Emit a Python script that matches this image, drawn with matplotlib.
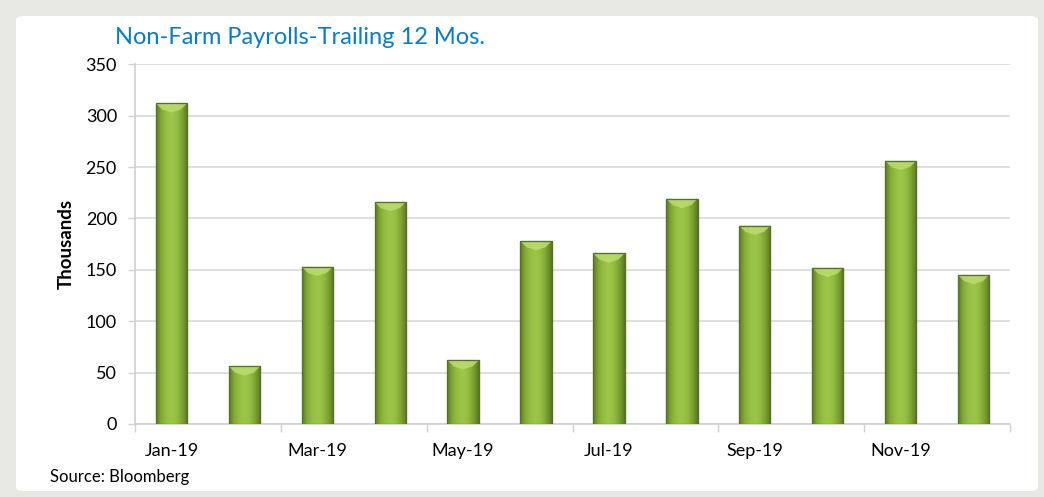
import numpy as np
import matplotlib
matplotlib.use("Agg")
import matplotlib.pyplot as plt
from matplotlib.patches import FancyBboxPatch
from matplotlib.colors import LinearSegmentedColormap

plt.rcParams['font.family'] = ['Lato', 'DejaVu Sans']

months = ["Jan-19", "Feb-19", "Mar-19", "Apr-19", "May-19", "Jun-19",
          "Jul-19", "Aug-19", "Sep-19", "Oct-19", "Nov-19", "Dec-19"]
payrolls = [312, 56, 153, 216, 62, 178, 166, 219, 193, 152, 256, 145]
y_ticks = [0, 50, 100, 150, 200, 250, 300, 350]
title = "Non-Farm Payrolls-Trailing 12 Mos."
ylabel = "Thousands"
source = "Source: Bloomberg"

W, H = 1044, 497
fig = plt.figure(figsize=(W / 100, H / 100), dpi=100)
fig.patch.set_facecolor("#E7E7E3")

# white inner panel
panel = FancyBboxPatch((16 / W, 6 / H), 1022 / W, 475 / H,
                       boxstyle="round,pad=0,rounding_size=0.008",
                       transform=fig.transFigure, facecolor="white",
                       edgecolor="none", zorder=-5)
fig.patches.append(panel)

ax = fig.add_axes([135 / W, 1 - 424 / H, 875 / W, (424 - 64.2) / H])
ax.set_facecolor("none")
ax.set_zorder(2)

x = np.arange(len(months))
bars = ax.bar(x, payrolls, width=0.43, color="#8CB33A", edgecolor="#5B7A25",
              linewidth=0.8, zorder=3)

cmap = LinearSegmentedColormap.from_list(
    "g", ["#5C7C22", "#84AC37", "#95C044", "#9CC749", "#93BD41", "#7CA132", "#587821"])
grad = np.linspace(0, 1, 64).reshape(1, -1)
for b in bars:
    x0, w, h = b.get_x(), b.get_width(), b.get_height()
    im = ax.imshow(grad, cmap=cmap, aspect="auto",
                   extent=[x0, x0 + w, 0, h], zorder=3.5, interpolation="bicubic")
    im.set_clip_path(b)
    # top bevel chevron
    bev = h - 6
    tri = plt.Polygon([[x0, h], [x0 + w, h], [x0 + w * 0.8, bev], [x0 + w * 0.5, bev - 3],
                       [x0 + w * 0.2, bev]], closed=True, facecolor="#BCDC70",
                      edgecolor="none", alpha=0.85, zorder=3.6)
    ax.add_patch(tri)
    ax.bar(b.get_x() + w / 2, h, width=w, facecolor="none", edgecolor="#55702A",
           linewidth=0.9, zorder=3.7)

ax.set_xlim(-0.5, len(months) - 0.5)
ax.set_ylim(0, 350)
ax.set_yticks(y_ticks)
ax.set_yticklabels([str(v) for v in y_ticks], fontsize=13)
ax.yaxis.grid(True, color="#D9D9D9", linewidth=1.2, zorder=0)
ax.set_axisbelow(True)

ax.set_xticks(x[::2])
ax.set_xticklabels(months[::2], fontsize=13)
ax.tick_params(axis="x", length=0, pad=14)
ax.set_xticks(np.arange(-0.5, len(months), 2), minor=True)
ax.tick_params(axis="x", which="minor", length=6, color="#D0D0D0", width=1)
ax.tick_params(axis="y", length=5, color="#D0D0D0", width=1, pad=8)

for s in ["top", "right"]:
    ax.spines[s].set_visible(False)
ax.spines["left"].set_color("#D0D0D0")
ax.spines["bottom"].set_color("#D0D0D0")
ax.spines["left"].set_linewidth(1.2)
ax.spines["bottom"].set_linewidth(1.2)

ax.set_ylabel(ylabel, fontsize=13.5, fontweight="bold", labelpad=8)

fig.text(115 / W, 1 - 38 / H, title, fontsize=17, color="#0A7BC6",
         ha="left", va="center")
fig.text(50 / W, 1 - 477 / H, source, fontsize=12, color="black",
         ha="left", va="center")

fig.savefig("out.png", dpi=100, facecolor=fig.get_facecolor())
